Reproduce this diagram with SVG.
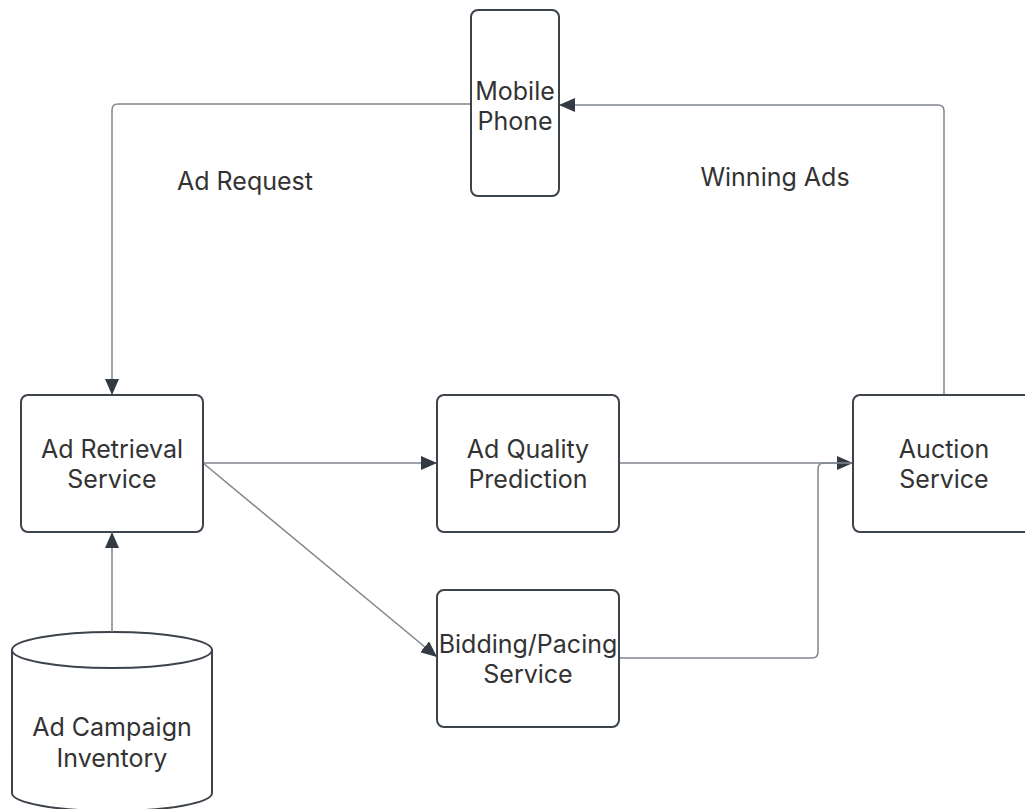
<svg xmlns="http://www.w3.org/2000/svg" width="1025" height="809" viewBox="0 0 1025 809">
<defs>
<marker id="arr" viewBox="0 0 16 14" refX="16" refY="7" markerWidth="16" markerHeight="14" markerUnits="userSpaceOnUse" orient="auto">
<path d="M0,0 L16,7 L0,14 Z" fill="#333a43"/>
</marker>
<style>
.node{fill:#fff;stroke:#3d434b;stroke-width:2}
.lbl{font-family:Inter,"Liberation Sans",sans-serif;font-size:25px;fill:#333;text-anchor:middle}
.con{fill:none;stroke:#80868e;stroke-width:1.5}
</style>
</defs>
<rect width="1025" height="809" fill="#fff"/>
<g id="connectors">
<path class="con" d="M471,104 H118 Q112,104 112,110 V395" marker-end="url(#arr)"/>
<path class="con" d="M944,395 V111 Q944,105 938,105 H559" marker-end="url(#arr)"/>
<path class="con" d="M203,463 H437" marker-end="url(#arr)"/>
<path class="con" d="M203,463 L437,657" marker-end="url(#arr)"/>
<path class="con" d="M619,463 H853" marker-end="url(#arr)"/>
<path class="con" d="M620,658 H812 Q818,658 818,652 V469 Q818,463 824,463 H853"/>
<text class="lbl" x="245" y="190">Ad Request</text>
<text class="lbl" x="775" y="186">Winning Ads</text>
</g>
<g id="mobile-phone">
<rect class="node" x="471" y="10" width="88" height="186" rx="7"/>
<text class="lbl" x="515" y="100">Mobile</text>
<text class="lbl" x="515" y="130">Phone</text>
</g>
<g id="ad-retrieval">
<rect class="node" x="21" y="395" width="182" height="137" rx="7"/>
<text class="lbl" x="112" y="458">Ad Retrieval</text>
<text class="lbl" x="112" y="488">Service</text>
</g>
<g id="ad-quality">
<rect class="node" x="437" y="395" width="182" height="137" rx="7"/>
<text class="lbl" x="528" y="458">Ad Quality</text>
<text class="lbl" x="528" y="488">Prediction</text>
</g>
<g id="auction">
<rect class="node" x="853" y="395" width="182" height="137" rx="7"/>
<text class="lbl" x="944" y="458">Auction</text>
<text class="lbl" x="944" y="488">Service</text>
</g>
<g id="bidding">
<rect class="node" x="437" y="590" width="182" height="137" rx="7"/>
<text class="lbl" x="528" y="653">Bidding/Pacing</text>
<text class="lbl" x="528" y="683">Service</text>
</g>
<g id="inventory">
<path class="node" d="M12,650 A100,18 0 0 1 212,650 V793 A100,18 0 0 1 12,793 Z"/>
<path class="node" d="M12,650 A100,18 0 0 0 212,650" fill="none"/>
<line class="con" x1="112" y1="632" x2="112" y2="532" marker-end="url(#arr)"/>
<text class="lbl" x="112" y="736">Ad Campaign</text>
<text class="lbl" x="112" y="767">Inventory</text>
</g>
</svg>
